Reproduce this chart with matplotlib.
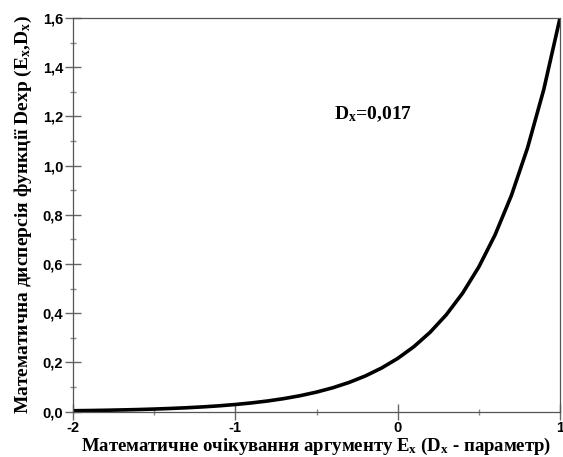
import matplotlib
matplotlib.use('Agg')
import matplotlib.pyplot as plt
from matplotlib.ticker import MultipleLocator, FixedLocator, FixedFormatter

plt.rcParams['mathtext.fontset'] = 'custom'
plt.rcParams['mathtext.rm'] = 'Liberation Serif:bold'
plt.rcParams['mathtext.it'] = 'Liberation Serif:bold'

# values
ex = [-2.0, -1.9, -1.8, -1.7, -1.6, -1.5, -1.4, -1.3, -1.2, -1.1, -1.0,
      -0.9, -0.8, -0.7, -0.6, -0.5, -0.4, -0.3, -0.2, -0.1, 0.0,
      0.1, 0.2, 0.3, 0.4, 0.5, 0.6, 0.7, 0.8, 0.9, 1.0]
dexp = [0.004, 0.0048, 0.0059, 0.0072, 0.0088, 0.0108, 0.0132, 0.0161, 0.0196, 0.024, 0.0293,
        0.0358, 0.0437, 0.0534, 0.0652, 0.0797, 0.0973, 0.1188, 0.1451, 0.1773, 0.2165,
        0.2644, 0.323, 0.3945, 0.4818, 0.5885, 0.7188, 0.878, 1.0723, 1.3097, 1.6]

xticks = [-2, -1, 0, 1]
xtick_labels = ['-2', '-1', '0', '1']
yticks = [0.0, 0.2, 0.4, 0.6, 0.8, 1.0, 1.2, 1.4, 1.6]
ytick_labels = ['0,0', '0,2', '0,4', '0,6', '0,8', '1,0', '1,2', '1,4', '1,6']

fig = plt.figure(figsize=(5.63, 4.57), dpi=100)
ax = fig.add_axes([0.1297, 0.0991, 0.865, 0.8615])

ax.plot(ex, dexp, color='black', linewidth=2.6)

ax.set_xlim(-2, 1)
ax.set_ylim(0, 1.6)

ax.xaxis.set_major_locator(FixedLocator(xticks))
ax.xaxis.set_major_formatter(FixedFormatter(xtick_labels))
ax.xaxis.set_minor_locator(MultipleLocator(0.5))
ax.yaxis.set_major_locator(FixedLocator(yticks))
ax.yaxis.set_major_formatter(FixedFormatter(ytick_labels))
ax.yaxis.set_minor_locator(MultipleLocator(0.1))

ax.tick_params(which='major', direction='inout', length=11, width=1, color='#666666',
               labelsize=10.5, pad=1.5)
ax.tick_params(axis='x', which='major', pad=1)
ax.tick_params(which='minor', direction='inout', length=5, width=1, color='#888888')
for lab in ax.get_xticklabels() + ax.get_yticklabels():
    lab.set_fontfamily('Liberation Sans')
    lab.set_fontweight('bold')

for s in ax.spines.values():
    s.set_color('#555555')
    s.set_linewidth(0.9)

ax.set_xlabel('Математичне очікування аргументу E$_x$ (D$_x$ - параметр)',
              fontfamily='Liberation Serif', fontweight='bold', fontsize=13.5, labelpad=0.5)
ax.set_ylabel('Математична дисперсія функції Dexp (E$_x$,D$_x$)',
              fontfamily='Liberation Serif', fontweight='bold', fontsize=14, labelpad=6)

ax.text(-0.39, 1.21, 'D$_x$=0,017', fontfamily='Liberation Serif', fontweight='bold',
        fontsize=14, ha='left', va='center')

fig.savefig('out.png', dpi=100)
